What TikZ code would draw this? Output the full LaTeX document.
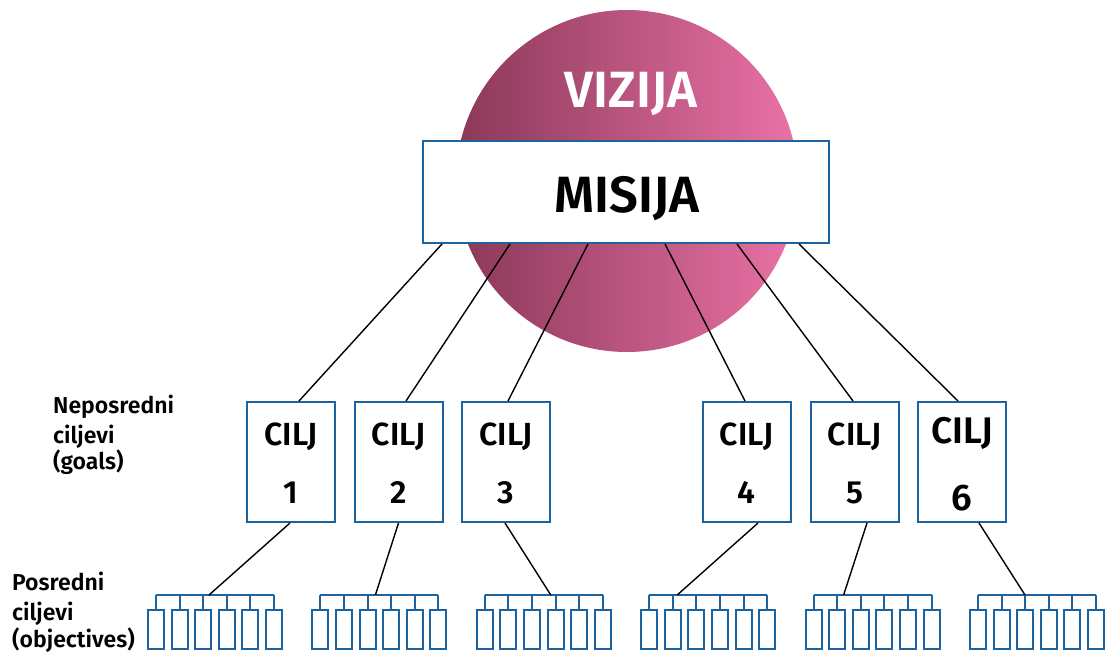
\documentclass[tikz,border=0pt]{standalone}
\usepackage{fontspec}
\setmainfont{Fira Sans}[UprightFont={* Medium}, BoldFont={* SemiBold}]
\usetikzlibrary{calc}

\definecolor{frameblue}{HTML}{1C63A0}
\definecolor{visiondark}{HTML}{8A3858}
\definecolor{visionlight}{HTML}{EA72A6}

\tikzset{
  goalbox/.style={draw=frameblue, line width=2pt, fill=white, minimum width=88pt, minimum height=120pt, inner sep=0pt},
  link/.style={draw=black, line width=1.4pt},
  objline/.style={draw=frameblue, line width=2pt},
  objbox/.style={draw=frameblue, line width=2pt, fill=white, minimum width=16pt, minimum height=39pt, inner sep=0pt},
  sidelabel/.style={anchor=base west, inner sep=0pt, font=\fontsize{23}{26}\selectfont\bfseries},
  goaltext/.style={anchor=base, inner sep=0pt, font=\fontsize{32}{36}\selectfont\bfseries},
}

\begin{document}
\begin{tikzpicture}[x=1pt, y=-1pt]
\useasboundingbox (0,0) rectangle (1105,653);

% vision disc with horizontal gradient
\shade[left color=visiondark, right color=visionlight] (627,181) circle[radius=171];
\node[anchor=base, inner sep=0pt, text=white, font=\fontsize{51}{56}\selectfont\bfseries] (vision) at (631,107) {VIZIJA};

% mission box
\node[draw=frameblue, line width=2pt, fill=white, minimum width=406pt, minimum height=102pt, inner sep=0pt] (mission) at (626,192) {};
\node[anchor=base, inner sep=0pt, font=\fontsize{51}{56}\selectfont\bfseries] (missiontxt) at (627,212) {MISIJA};

% goal boxes
\foreach \n/\x in {1/291, 2/398.5, 3/506, 4/746.5, 5/854.5, 6/962} {
  \node[goalbox] (g\n) at (\x,462) {};
}
\foreach \n/\x in {1/291, 2/398.5, 3/506, 4/746.5, 5/854.5} {
  \node[goaltext] (g\n title) at (\x,445) {CILJ};
  \node[goaltext] (g\n num) at (\x,503) {\n};
}
\node[goaltext, font=\fontsize{37}{40}\selectfont\bfseries] (g6title) at (962,443) {CILJ};
\node[goaltext, font=\fontsize{37}{40}\selectfont\bfseries] (g6num) at (962,510) {6};

% links from mission to goals
\foreach \n/\ms/\gs in {1/-184/8, 2/-116/7.5, 3/-38/2, 4/39/-1.5, 5/111/-1.5, 6/173/-4} {
  \draw[link] ([xshift=\ms pt]mission.south) -- ([xshift=\gs pt]g\n.north);
}

% objective groups: a bar with six stubs and boxes
\foreach \k/\hit/\gb in {0/53/-1, 1/55/0, 2/66/-1, 3/28/11.5, 4/30/12.5, 5/47/17} {
  \pgfmathsetmacro{\L}{156+164.4*\k}
  \pgfmathtruncatemacro{\g}{\k+1}
  \coordinate (bar\g L) at (\L,595);
  \coordinate (bar\g R) at (\L+118,595);
  \coordinate (hit\g) at (\L+\hit,595);
  \foreach \i in {0,...,5} {
    \node[objbox, anchor=north] (o\g-\i) at (\L+23.6*\i,609) {};
    \draw[objline] (\L+23.6*\i,595) -- (o\g-\i.north);
  }
  \draw[objline] (bar\g L) -- (bar\g R);
  \draw[link] ([xshift=\gb pt]g\g.south) -- (hit\g);
}

% side labels
\node[sidelabel] (lbl1a) at (53,413) {Neposredni};
\node[sidelabel] (lbl1b) at (53,443) {ciljevi};
\node[sidelabel] (lbl1c) at (53,469) {(goals)};
\node[sidelabel] (lbl2a) at (12,590) {Posredni};
\node[sidelabel] (lbl2b) at (12,620) {ciljevi};
\node[sidelabel] (lbl2c) at (12,647) {(objectives)};
\end{tikzpicture}
\end{document}
